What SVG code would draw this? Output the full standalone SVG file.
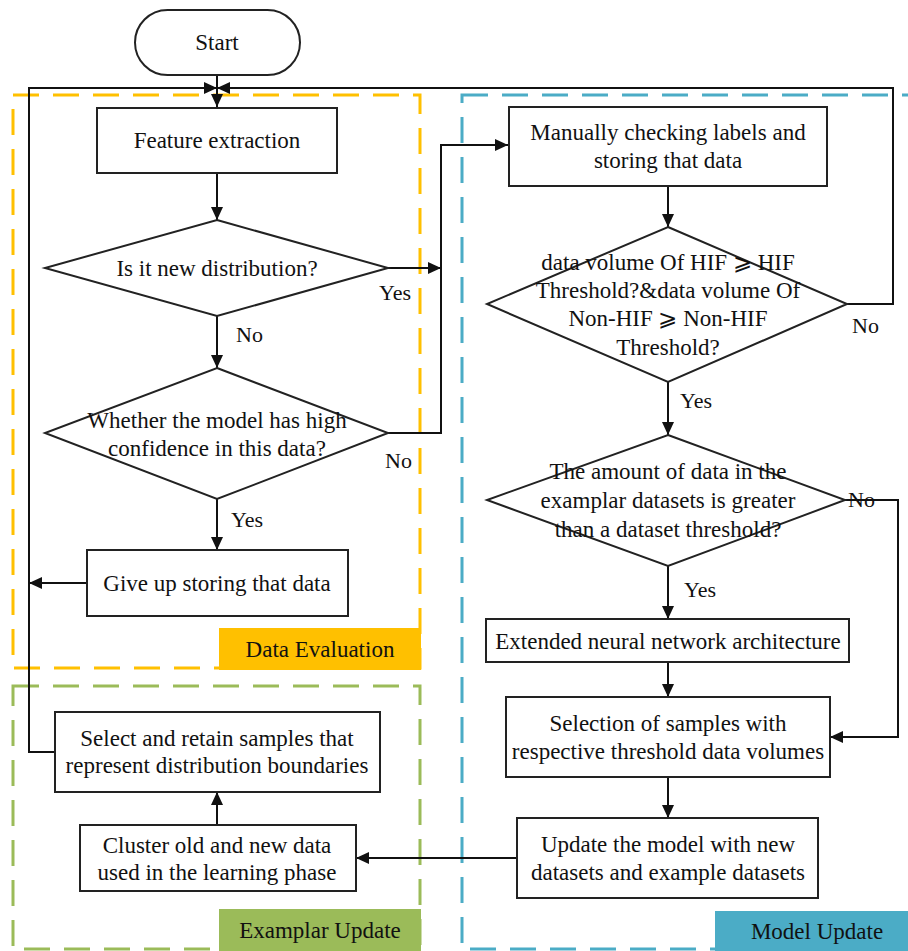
<svg xmlns="http://www.w3.org/2000/svg" width="908" height="951" viewBox="0 0 908 951">
<style>
.box{fill:#fff;stroke:#222;stroke-width:2}
.dia{fill:#fff;stroke:#222;stroke-width:2}
.t{font-family:"Liberation Serif","Times New Roman",serif;font-size:23px;fill:#111;text-anchor:middle}
.lab{font-family:"Liberation Serif","Times New Roman",serif;font-size:22px;fill:#111}
.c{fill:none;stroke:#111;stroke-width:2}
.dash{fill:none;stroke-width:3;stroke-dasharray:26 14}
</style>
<defs>
<marker id="ah" markerUnits="userSpaceOnUse" markerWidth="14" markerHeight="14" viewBox="0 0 14 14" refX="13" refY="7" orient="auto">
<path d="M0,1 L13,7 L0,13 Z" fill="#111"/>
</marker>
</defs>
<rect width="908" height="951" fill="#fff"/>
<g id="regions">
<rect class="dash" x="13" y="95" width="407" height="573" stroke="#FFC000"/>
<rect class="dash" x="13" y="686" width="407" height="263" stroke="#9BBB59"/>
<rect class="dash" x="462" y="95" width="470" height="854" stroke="#4BACC6"/>
</g>
<g id="connectors">
<path class="c" d="M217,75 V107" marker-end="url(#ah)"/>
<path class="c" d="M55,752 H29 V88 H217" marker-end="url(#ah)"/>
<path class="c" d="M847,304 H893 V88 H217" marker-end="url(#ah)"/>
<path class="c" d="M217,173 V220" marker-end="url(#ah)"/>
<path class="c" d="M217,316 V368" marker-end="url(#ah)"/>
<path class="c" d="M217,499 V550" marker-end="url(#ah)"/>
<path class="c" d="M87,583 H29" marker-end="url(#ah)"/>
<path class="c" d="M388,268 H441" marker-end="url(#ah)"/>
<path class="c" d="M388,433 H441 V145 H508" marker-end="url(#ah)"/>
<path class="c" d="M668,186 V227" marker-end="url(#ah)"/>
<path class="c" d="M668,382 V435" marker-end="url(#ah)"/>
<path class="c" d="M668,566 V619" marker-end="url(#ah)"/>
<path class="c" d="M845,500 H898 V737 H830" marker-end="url(#ah)"/>
<path class="c" d="M668,662 V697" marker-end="url(#ah)"/>
<path class="c" d="M668,777 V818" marker-end="url(#ah)"/>
<path class="c" d="M517,858 H356" marker-end="url(#ah)"/>
<path class="c" d="M217,825 V792" marker-end="url(#ah)"/>
<text class="lab" x="379" y="300">Yes</text>
<text class="lab" x="236" y="342">No</text>
<text class="lab" x="385" y="468">No</text>
<text class="lab" x="231" y="527">Yes</text>
<text class="lab" x="852" y="333">No</text>
<text class="lab" x="680" y="408">Yes</text>
<text class="lab" x="848" y="507">No</text>
<text class="lab" x="684" y="597">Yes</text>
</g>
<g id="start">
<rect class="box" x="135" y="10" width="165" height="65" rx="32.5"/>
<text class="t" x="217" y="50">Start</text>
</g>
<g id="feature">
<rect class="box" x="97" y="108" width="240" height="65"/>
<text class="t" x="217" y="148">Feature extraction</text>
</g>
<g id="d1">
<polygon class="dia" points="217,220 388,268 217,316 45,268"/>
<text class="t" x="217" y="276">Is it new distribution?</text>
</g>
<g id="d2">
<polygon class="dia" points="217,368 388,433 217,499 45,433"/>
<text class="t" x="217" y="428">Whether the model has high</text>
<text class="t" x="217" y="456">confidence in this data?</text>
</g>
<g id="giveup">
<rect class="box" x="87" y="550" width="261" height="66"/>
<text class="t" x="217" y="591">Give up storing that data</text>
</g>
<g id="manual">
<rect class="box" x="509" y="107" width="318" height="79"/>
<text class="t" x="668" y="140">Manually checking labels and</text>
<text class="t" x="668" y="168">storing that data</text>
</g>
<g id="d3">
<polygon class="dia" points="668,227 847,304 668,382 487,304"/>
<text class="t" x="668" y="270">data volume Of HIF ⩾ HIF</text>
<text class="t" x="668" y="298">Threshold?&amp;data volume Of</text>
<text class="t" x="668" y="326">Non-HIF ⩾ Non-HIF</text>
<text class="t" x="668" y="355">Threshold?</text>
</g>
<g id="d4">
<polygon class="dia" points="668,435 845,500 668,566 487,500"/>
<text class="t" x="668" y="479">The amount of data in the</text>
<text class="t" x="668" y="508">examplar datasets is greater</text>
<text class="t" x="668" y="537">than a dataset threshold?</text>
</g>
<g id="extended">
<rect class="box" x="486" y="619" width="363" height="43"/>
<text class="t" x="668" y="649">Extended neural network architecture</text>
</g>
<g id="selection">
<rect class="box" x="506" y="697" width="324" height="80"/>
<text class="t" x="668" y="731">Selection of samples with</text>
<text class="t" x="668" y="759">respective threshold data volumes</text>
</g>
<g id="update">
<rect class="box" x="517" y="818" width="301" height="80"/>
<text class="t" x="668" y="852">Update the model with new</text>
<text class="t" x="668" y="880">datasets and example datasets</text>
</g>
<g id="cluster">
<rect class="box" x="80" y="825" width="276" height="66"/>
<text class="t" x="217" y="853">Cluster old and new data</text>
<text class="t" x="217" y="880">used in the learning phase</text>
</g>
<g id="select">
<rect class="box" x="55" y="712" width="325" height="80"/>
<text class="t" x="217" y="746">Select and retain samples that</text>
<text class="t" x="217" y="773">represent distribution boundaries</text>
</g>
<g id="labels">
<rect x="219" y="628" width="202" height="42" fill="#FFC000"/>
<text class="t" x="320" y="657">Data Evaluation</text>
<rect x="219" y="909" width="202" height="42" fill="#9BBB59"/>
<text class="t" x="320" y="938">Examplar Update</text>
<rect x="715" y="911" width="193" height="40" fill="#4BACC6"/>
<text class="t" x="817" y="939">Model Update</text>
</g>
</svg>
